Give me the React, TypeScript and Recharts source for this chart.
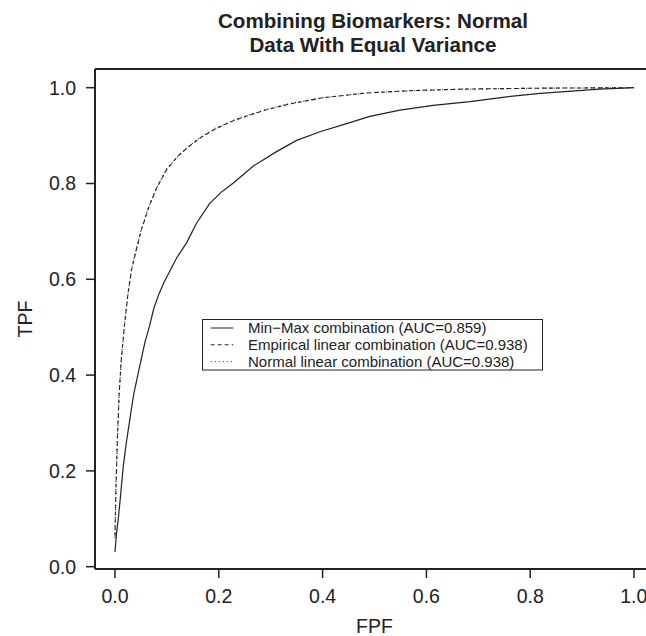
import React from 'react';
import { LineChart, Line, XAxis, YAxis, ReferenceLine, Legend } from 'recharts';

// ---- Data ----
const fpfMinMax = [0, 0.003, 0.0064, 0.01, 0.016, 0.022, 0.029, 0.036, 0.042, 0.05, 0.058, 0.066, 0.075, 0.085, 0.095, 0.107, 0.119, 0.138, 0.157, 0.183, 0.205, 0.228, 0.266, 0.312, 0.35, 0.395, 0.44, 0.491, 0.549, 0.613, 0.684, 0.755, 0.819, 0.88, 0.934, 1.0];
const tpfMinMax = [0.031, 0.07, 0.1, 0.14, 0.21, 0.26, 0.31, 0.36, 0.39, 0.43, 0.47, 0.5, 0.54, 0.57, 0.595, 0.62, 0.645, 0.676, 0.717, 0.759, 0.782, 0.801, 0.836, 0.867, 0.89, 0.908, 0.923, 0.94, 0.953, 0.963, 0.971, 0.981, 0.988, 0.993, 0.997, 1.0];

const fpfEmpirical = [0, 0.002, 0.0044, 0.008, 0.012, 0.018, 0.025, 0.032, 0.0385, 0.05, 0.065, 0.08, 0.1, 0.122, 0.14, 0.164, 0.195, 0.228, 0.26, 0.292, 0.337, 0.4, 0.485, 0.575, 0.671, 0.82, 1.0];
const tpfEmpirical = [0.063, 0.17, 0.26, 0.36, 0.43, 0.5, 0.57, 0.62, 0.65, 0.7, 0.75, 0.79, 0.83, 0.858, 0.875, 0.895, 0.915, 0.931, 0.943, 0.954, 0.966, 0.979, 0.989, 0.994, 0.997, 0.999, 1.0];

const fpfNormal = [0, 0.002, 0.0044, 0.008, 0.012, 0.018, 0.025, 0.032, 0.0385, 0.05, 0.065, 0.08, 0.1, 0.122, 0.14, 0.164, 0.195, 0.228, 0.26, 0.292, 0.337, 0.4, 0.485, 0.575, 0.671, 0.82, 1.0];
const tpfNormal = [0.06, 0.172, 0.262, 0.358, 0.432, 0.502, 0.568, 0.622, 0.652, 0.702, 0.752, 0.791, 0.831, 0.857, 0.876, 0.896, 0.916, 0.932, 0.944, 0.955, 0.967, 0.979, 0.989, 0.994, 0.997, 0.999, 1.0];

const xTicks = [0, 0.2, 0.4, 0.6, 0.8, 1.0];
const yTicks = [0, 0.2, 0.4, 0.6, 0.8, 1.0];
const seriesNames = [
  'Min\u2212Max combination (AUC=0.859)',
  'Empirical linear combination (AUC=0.938)',
  'Normal linear combination (AUC=0.938)',
];
const titleLines = ['Combining Biomarkers: Normal', 'Data With Equal Variance'];
const xLabel = 'FPF';
const yLabel = 'TPF';

const toPoints = (xs: number[], ys: number[]) => xs.map((x, i) => ({ x, y: ys[i] }));
const minMaxData = toPoints(fpfMinMax, tpfMinMax);
const empiricalData = toPoints(fpfEmpirical, tpfEmpirical);
const normalData = toPoints(fpfNormal, tpfNormal);

const FONT = '"Liberation Sans", Arial, Helvetica, sans-serif';
const INK = '#222';
const X_DOMAIN: [number, number] = [-0.0385, 1.0231];
const Y_DOMAIN: [number, number] = [-0.0048, 1.039];

const dashes = [undefined, '4 3', '1 3'];

const LegendBox = () => (
  <svg width={341} height={52} style={{ display: 'block' }}>
    <rect x={0.5} y={0.5} width={340} height={50.5} fill="#fff" stroke={INK} strokeWidth={1} />
    {seriesNames.map((name, i) => {
      const cy = 9 + i * 16.8;
      return (
        <g key={name}>
          <line x1={8.7} x2={31.3} y1={cy} y2={cy} stroke={INK} strokeWidth={1} strokeDasharray={dashes[i]} />
          <text x={46} y={cy} dy="0.36em" fontSize={15} fontFamily={FONT} fill={INK}>{name}</text>
        </g>
      );
    })}
  </svg>
);

const YLabel = (props: any) => {
  const vb = props.viewBox || { x: 0, y: 0, width: 0, height: 0 };
  const cx = 24.5;
  const cy = vb.y + vb.height / 2;
  return (
    <text x={cx} y={cy} transform={`rotate(-90, ${cx}, ${cy})`} textAnchor="middle" dominantBaseline="central"
      fontSize={19.5} fontFamily={FONT} fill={INK}>{yLabel}</text>
  );
};

export default function App() {
  return (
    <div style={{ position: 'absolute', left: 0, top: 0, width: 646, height: 636, background: '#fff', fontFamily: FONT }}>
      <div style={{ position: 'absolute', left: 0, top: 0, width: 646, height: 636 }}>
        <LineChart width={646} height={636} margin={{ top: 69, right: 0, bottom: 0, left: 0 }}>
          <XAxis
            type="number"
            dataKey="x"
            domain={X_DOMAIN}
            allowDataOverflow
            ticks={xTicks}
            tickFormatter={(v: number) => v.toFixed(1)}
            height={67}
            tickSize={9}
            tickMargin={11}
            axisLine={{ stroke: INK, strokeWidth: 2 }}
            tickLine={{ stroke: INK, strokeWidth: 1.5 }}
            tick={{ fill: INK, fontSize: 19.5, fontFamily: FONT }}
            label={{ value: xLabel, position: 'insideBottom', offset: 3, dx: 4, fill: INK, fontSize: 19.5, fontFamily: FONT }}
          />
          <YAxis
            type="number"
            dataKey="y"
            domain={Y_DOMAIN}
            allowDataOverflow
            ticks={yTicks}
            tickFormatter={(v: number) => v.toFixed(1)}
            width={95}
            tickSize={9}
            tickMargin={10}
            axisLine={{ stroke: INK, strokeWidth: 2 }}
            tickLine={{ stroke: INK, strokeWidth: 1.5 }}
            tick={{ fill: INK, fontSize: 19.5, fontFamily: FONT }}
            label={<YLabel />}
          />
          <ReferenceLine y={Y_DOMAIN[1]} stroke={INK} strokeWidth={2} ifOverflow="visible" />
          <Line data={minMaxData} dataKey="y" type="linear" stroke={INK} strokeWidth={1.2} dot={false} isAnimationActive={false} name={seriesNames[0]} />
          <Line data={empiricalData} dataKey="y" type="linear" stroke={INK} strokeWidth={1.1} strokeDasharray="4 3" dot={false} isAnimationActive={false} name={seriesNames[1]} />
          <Line data={normalData} dataKey="y" type="linear" stroke={INK} strokeWidth={1.1} strokeDasharray="1 3" dot={false} isAnimationActive={false} name={seriesNames[2]} />
          <Legend
            layout="horizontal"
            verticalAlign="middle"
            align="center"
            wrapperStyle={{ left: 202, top: 319, width: 341, height: 52 }}
            content={() => <LegendBox />}
          />
        </LineChart>
      </div>
      <div style={{ position: 'absolute', left: 0, top: 0, width: 646, textAlign: 'center', pointerEvents: 'none' }}>
        {titleLines.map((t, i) => (
          <div key={t} style={{ position: 'absolute', left: 373 - 250, width: 500, top: 9 + i * 24, fontSize: 20.6, lineHeight: '24px', fontWeight: 'bold', color: INK, fontFamily: FONT }}>{t}</div>
        ))}
      </div>
    </div>
  );
}
